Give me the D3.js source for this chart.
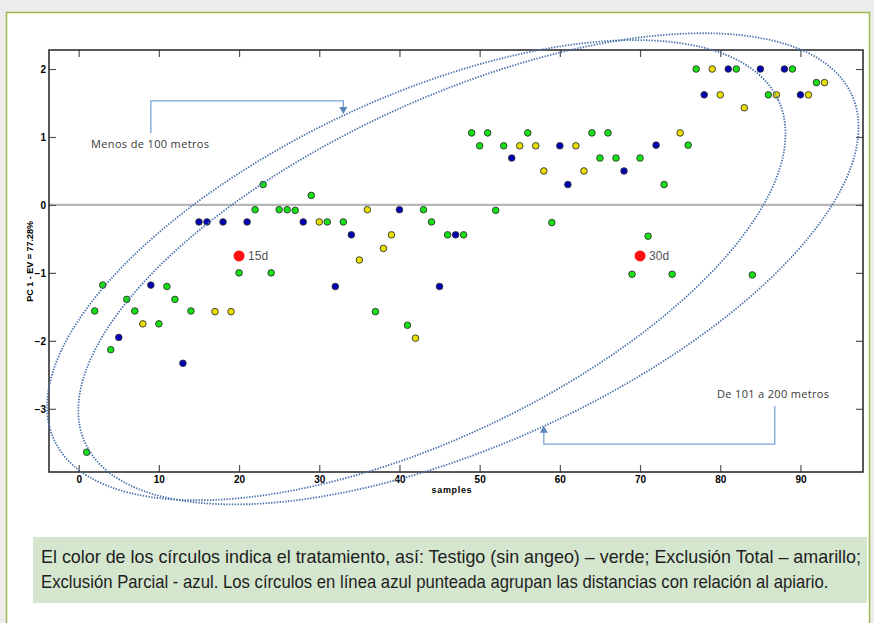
<!DOCTYPE html>
<html><head><meta charset="utf-8">
<script src="https://cdn.jsdelivr.net/npm/d3@7/dist/d3.min.js"></script>
<style>
html,body{margin:0;padding:0;background:#ececec;}
svg{display:block;}
</style></head>
<body>
<svg id="chart" width="874" height="623"></svg>
<script>
// ---- data ----
const samples = d3.range(1, 94);
const pc1 = [
 -3.64,-1.56,-1.18,-2.13,-1.95,-1.39,-1.56,-1.75,-1.18,-1.75,
 -1.20,-1.39,-2.33,-1.56,-0.25,-0.25,-1.57,-0.25,-1.57,-1.00,
 -0.25,-0.07, 0.30,-1.00,-0.07,-0.07,-0.08,-0.25, 0.14,-0.25,
 -0.25,-1.20,-0.25,-0.44,-0.81,-0.07,-1.57,-0.64,-0.44,-0.07,
 -1.77,-1.96,-0.07,-0.25,-1.20,-0.44,-0.44,-0.44, 1.06, 0.87,
  1.06,-0.08, 0.87, 0.69, 0.87, 1.06, 0.87, 0.50,-0.26, 0.87,
  0.30, 0.87, 0.50, 1.06, 0.69, 1.06, 0.69, 0.50,-1.02, 0.69,
 -0.46, 0.88, 0.30,-1.02, 1.06, 0.88, 2.00, 1.62, 2.00, 1.62,
  2.00, 2.00, 1.43,-1.03, 2.00, 1.62, 1.62, 2.00, 2.00, 1.62,
  1.62, 1.80, 1.80];
// G = Testigo (verde), Y = Exclusión Total (amarillo), B = Exclusión Parcial (azul)
const treatment = [
 "G","G","G","G","B","G","G","Y","B","G",
 "G","G","B","G","B","B","Y","B","Y","G",
 "B","G","G","G","G","G","G","B","G","Y",
 "G","B","G","B","Y","Y","G","Y","Y","B",
 "G","Y","G","G","B","G","B","G","G","G",
 "G","G","G","B","Y","G","Y","Y","G","B",
 "B","Y","Y","G","G","G","G","B","G","G",
 "G","B","G","G","Y","G","G","B","Y","Y",
 "B","G","Y","G","B","G","Y","B","G","B",
 "Y","G","Y"];
const markerLabels = ["15d", "30d"];
const markerX = [20, 70];
const markerY = [-0.75, -0.75];
const xTicks = [0,10,20,30,40,50,60,70,80,90];
const yTicks = [2,1,0,-1,-2,-3];
const xTitle = "samples";
const yTitle = "PC 1 - EV = 77.28%";
const groupLabels = ["Menos de 100 metros", "De 101 a 200 metros"];
const caption = [
 "El color de los círculos indica el tratamiento, así: Testigo (sin angeo) – verde; Exclusión Total – amarillo;",
 "Exclusión Parcial - azul. Los círculos en línea azul punteada agrupan las distancias con relación al apiario."];

const colors = {G:"#14e014", Y:"#e8de00", B:"#0000b4"};

const svg = d3.select("#chart");
// panel
svg.append("rect").attr("x",6.5).attr("y",12.5).attr("width",863).attr("height",640)
  .attr("fill","#fff").attr("stroke","#9ab94e").attr("stroke-width",1.5);

const L=49, R=863, T=50, B=472;
const x = d3.scaleLinear().domain([-3.7, 97.8]).range([L, R]);
const y = d3.scaleLinear().domain([-3.93, 2.28]).range([B, T]);

const g = svg.append("g");

// zero line
g.append("line").attr("x1",L).attr("x2",R).attr("y1",y(0)).attr("y2",y(0))
 .attr("stroke","#b8b8b8").attr("stroke-width",2.2);

// axes with inward ticks
const tickLen = 7;
const axB = d3.axisBottom(x).tickValues(xTicks).tickSize(-tickLen).tickPadding(4).tickFormat(d3.format("d"));
const axT = d3.axisTop(x).tickValues(xTicks).tickSize(-tickLen).tickFormat("");
const axL = d3.axisLeft(y).tickValues(yTicks).tickSize(-tickLen).tickPadding(3).tickFormat(d3.format("d"));
const axR = d3.axisRight(y).tickValues(yTicks).tickSize(-tickLen).tickFormat("");
function styleAxis(sel){
  sel.select(".domain").remove();
  sel.selectAll(".tick line").attr("stroke","#555").attr("stroke-width",1.2);
  sel.selectAll(".tick text").attr("font-family","Arial, 'Liberation Sans', sans-serif")
    .attr("font-weight","bold").attr("font-size",10).attr("fill","#000");
}
g.append("g").attr("transform",`translate(0,${B})`).call(axB).call(styleAxis);
g.append("g").attr("transform",`translate(0,${T})`).call(axT).call(styleAxis);
g.append("g").attr("transform",`translate(${L},0)`).call(axL).call(styleAxis);
g.append("g").attr("transform",`translate(${R},0)`).call(axR).call(styleAxis);

// frame
g.append("rect").attr("x",L).attr("y",T).attr("width",R-L).attr("height",B-T)
 .attr("fill","none").attr("stroke","#222").attr("stroke-width",1.5);

// axis titles
g.append("text").attr("x",x(46.5)).attr("y",B+21).attr("text-anchor","middle")
 .attr("font-family","Arial, 'Liberation Sans', sans-serif").attr("font-weight","bold")
 .attr("font-size",9).attr("textLength",40).text(xTitle);
g.append("text").attr("transform",`translate(33,${y(-0.83)}) rotate(-90)`).attr("text-anchor","middle")
 .attr("font-family","Arial, 'Liberation Sans', sans-serif").attr("font-weight","bold")
 .attr("font-size",9).text(yTitle);

// points
g.selectAll("circle.pt").data(samples).join("circle").attr("class","pt")
 .attr("cx",(d)=>x(d)).attr("cy",(d,i)=>y(pc1[i])).attr("r",3.3)
 .attr("fill",(d,i)=>colors[treatment[i]]).attr("stroke","#333").attr("stroke-width",0.9);

// red markers
markerLabels.forEach((lab,i)=>{
  g.append("circle").attr("cx",x(markerX[i])).attr("cy",y(markerY[i])).attr("r",5.5).attr("fill","#ff1010");
  g.append("text").attr("x",x(markerX[i])+9).attr("y",y(markerY[i])+4.5)
   .attr("font-family","Arial, 'Liberation Sans', sans-serif").attr("font-size",12).attr("fill","#555").text(lab);
});

// ellipses (group outlines): centre in data units, radii in px, rotation in deg
const ellCx = [42.1, 48.6];
const ellCy = [-0.96, -0.94];
const ellRx = [400, 421];
const ellRy = [171, 174.5];
const ellRot = [-25.2, -24.4];
ellCx.forEach((cx,i)=>{
  g.append("ellipse").attr("cx",0).attr("cy",0).attr("rx",ellRx[i]).attr("ry",ellRy[i])
   .attr("transform",`translate(${x(cx)},${y(ellCy[i])}) rotate(${ellRot[i]})`)
   .attr("fill","none").attr("stroke","#4a72ab").attr("stroke-width",1.8)
   .attr("stroke-dasharray","1.4,1.4");
});

// annotation brackets
const annColor = "#7aa3d6";
function arrow(px,py,dir){ // dir: 1 = pointing down, -1 = pointing up
  g.append("path").attr("d",`M${px-4},${py-7*dir} L${px+4},${py-7*dir} L${px},${py} Z`).attr("fill","#5b86c0");
}
// Menos de 100 metros
g.append("path").attr("d",`M${x(9)},${y(1.06)} V${y(1.53)} H${x(33)} V${y(1.37)}`)
 .attr("fill","none").attr("stroke",annColor).attr("stroke-width",1.3);
arrow(x(33), y(1.34), 1);
g.append("text").attr("x",x(1.54)).attr("y",y(0.84))
 .attr("font-family","'Open Sans', 'Noto Sans', sans-serif").attr("font-size",11).attr("fill","#3a3a3a")
 .attr("textLength",118).text(groupLabels[0]);
// De 101 a 200 metros
g.append("path").attr("d",`M${x(86.8)},${y(-2.96)} V${y(-3.52)} H${x(58.0)} V${y(-3.30)}`)
 .attr("fill","none").attr("stroke",annColor).attr("stroke-width",1.3);
arrow(x(58.0), y(-3.25), -1);
g.append("text").attr("x",x(79.6)).attr("y",y(-2.84))
 .attr("font-family","'Open Sans', 'Noto Sans', sans-serif").attr("font-size",11).attr("fill","#3a3a3a")
 .attr("textLength",112).text(groupLabels[1]);

// caption (condensed by horizontal scaling)
svg.append("rect").attr("x",33).attr("y",537).attr("width",834).attr("height",66).attr("fill","#d5e6cf");
const capWidths = [821, 788];
const capY = [563, 588];
caption.forEach((txt,i)=>{
  const t = svg.append("text").attr("x",0).attr("y",0)
   .attr("font-family","'Liberation Sans', Arial, sans-serif")
   .attr("font-size",18).attr("fill","#1e1e1e").text(txt);
  const w = t.node().getComputedTextLength();
  t.attr("transform",`translate(41,${capY[i]}) scale(${capWidths[i]/w},1)`);
});
</script>
</body></html>
